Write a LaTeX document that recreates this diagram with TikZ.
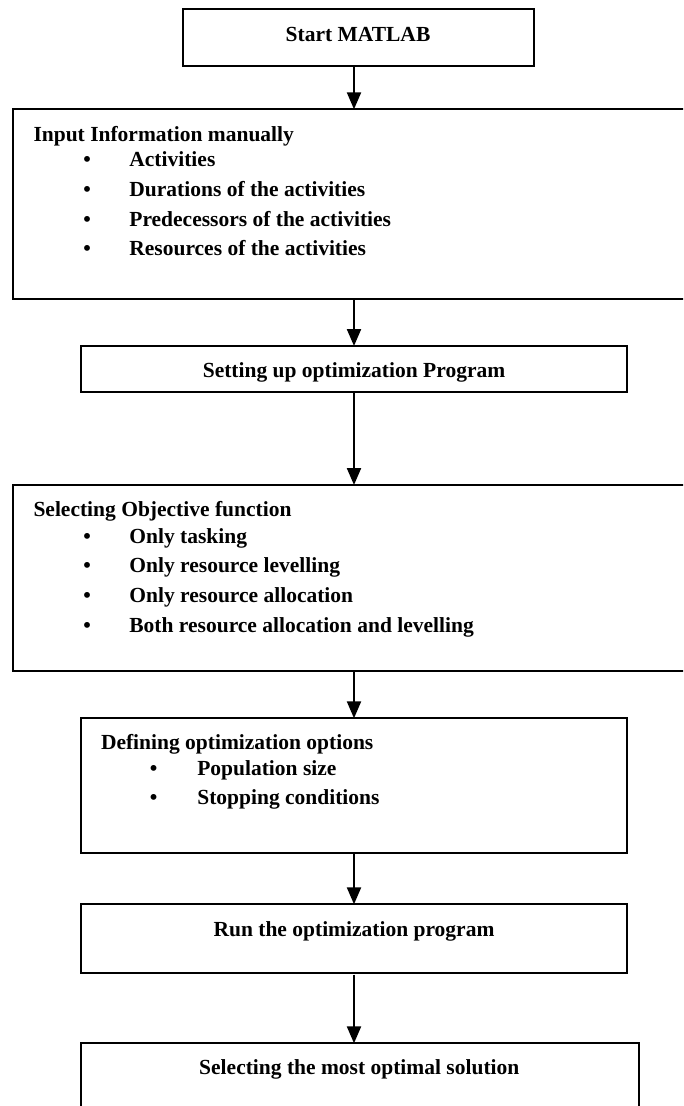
\documentclass[tikz,border=0pt]{standalone}
\usepackage{fontspec}
\setmainfont{Liberation Serif}
\usetikzlibrary{arrows.meta}
\tikzset{
  box/.style={draw=black, line width=2pt, rectangle, inner sep=0pt, outer sep=0pt, anchor=north west},
  txt/.style={inner sep=0pt, outer sep=0pt, font=\fontsize{21.5}{26}\selectfont\bfseries},
  arr/.style={line width=2.2pt, -{Triangle[width=14pt,length=17pt]}},
}
\begin{document}
\begin{tikzpicture}[x=1pt,y=-1pt]
\useasboundingbox (0,0) rectangle (683,1106);
\clip (0,0) rectangle (683,1106);
\coordinate (ax) at (354,0);
% boxes
\node[box, minimum width=351.5pt, minimum height=56.4pt] (start) at (182.9,9.3) {};
\node[box, minimum width=683.8pt, minimum height=190pt] (input) at (13.1,109.3) {};
\node[box, minimum width=546.6pt, minimum height=46.3pt] (setup) at (80.6,346) {};
\node[box, minimum width=683.8pt, minimum height=186.3pt] (objective) at (13.1,485) {};
\node[box, minimum width=546.6pt, minimum height=135pt] (options) at (80.6,718.3) {};
\node[box, minimum width=546.6pt, minimum height=68.4pt] (run) at (80.6,904.3) {};
\node[box, minimum width=558.4pt, minimum height=100pt] (final) at (80.6,1043.3) {};
% texts
\node[txt, anchor=base] (tstart) at (358,41.5) {Start MATLAB};
\node[txt, anchor=base west] (tinput) at (33.5,141) {Input Information manually};
\node[txt, anchor=base] (b1) at (87.1,166) {\textbullet};
\node[txt, anchor=base west] (i1) at (129.4,166) {Activities};
\node[txt, anchor=base] (b2) at (87.1,196) {\textbullet};
\node[txt, anchor=base west] (i2) at (129.4,196) {Durations of the activities};
\node[txt, anchor=base] (b3) at (87.1,226) {\textbullet};
\node[txt, anchor=base west] (i3) at (129.4,226) {Predecessors of the activities};
\node[txt, anchor=base] (b4) at (87.1,255) {\textbullet};
\node[txt, anchor=base west] (i4) at (129.4,255) {Resources of the activities};
\node[txt, anchor=base] (tsetup) at (354,377) {Setting up optimization Program};
\node[txt, anchor=base west] (tobj) at (33.5,516) {Selecting Objective function};
\node[txt, anchor=base] (c1) at (87.1,543) {\textbullet};
\node[txt, anchor=base west] (o1) at (129.4,543) {Only tasking};
\node[txt, anchor=base] (c2) at (87.1,572) {\textbullet};
\node[txt, anchor=base west] (o2) at (129.4,572) {Only resource levelling};
\node[txt, anchor=base] (c3) at (87.1,602) {\textbullet};
\node[txt, anchor=base west] (o3) at (129.4,602) {Only resource allocation};
\node[txt, anchor=base] (c4) at (87.1,632) {\textbullet};
\node[txt, anchor=base west] (o4) at (129.4,632) {Both resource allocation and levelling};
\node[txt, anchor=base west] (topt) at (101,749.5) {Defining optimization options};
\node[txt, anchor=base] (d1) at (153.7,775) {\textbullet};
\node[txt, anchor=base west] (p1) at (197.3,775) {Population size};
\node[txt, anchor=base] (d2) at (153.7,804.5) {\textbullet};
\node[txt, anchor=base west] (p2) at (197.3,804.5) {Stopping conditions};
\node[txt, anchor=base] (trun) at (354,936) {Run the optimization program};
\node[txt, anchor=base] (tfinal) at (359.3,1074.5) {Selecting the most optimal solution};
% arrows
\draw[arr] (start.south -| ax) -- (input.north -| ax);
\draw[arr] (input.south -| ax) -- (setup.north -| ax);
\draw[arr] (setup.south -| ax) -- (objective.north -| ax);
\draw[arr] (objective.south -| ax) -- (options.north -| ax);
\draw[arr] (options.south -| ax) -- (run.north -| ax);
\draw[arr] ([yshift=-2pt]run.south -| ax) -- (final.north -| ax);
\end{tikzpicture}
\end{document}
